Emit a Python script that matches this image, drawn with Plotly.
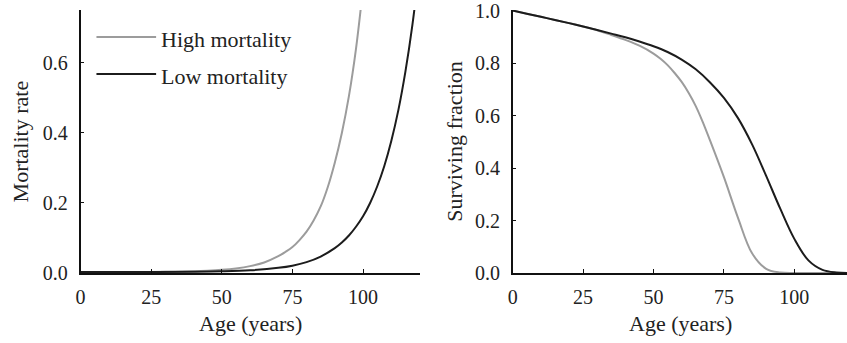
import plotly.graph_objects as go

# Mortality rate by age (left panel)
mort_age_high = [0, 10, 20, 30, 40, 45, 50, 55, 60, 65, 70, 72.5, 75, 77.5, 80,
                 82.5, 85, 87.5, 90, 92.5, 95, 97.5, 100]
mort_high = [0.0026, 0.0026, 0.0029, 0.0035, 0.005, 0.0066, 0.0091, 0.0131, 0.0196,
             0.0301, 0.048, 0.06, 0.074, 0.094, 0.118, 0.15, 0.19, 0.245, 0.315,
             0.40, 0.505, 0.64, 0.815]
mort_age_low = [0, 20, 40, 50, 60, 70, 75, 80, 85, 90, 92.5, 95, 97.5, 100, 102.5,
                105, 107.5, 110, 112.5, 115, 117.5, 120]
mort_low = [0.0025, 0.0027, 0.0035, 0.0047, 0.0077, 0.0148, 0.021, 0.031, 0.047,
            0.071, 0.087, 0.107, 0.132, 0.162, 0.20, 0.247, 0.305, 0.377, 0.465,
            0.575, 0.71, 0.877]

# Surviving fraction by age (right panel)
surv_age_high = [0, 5, 10, 15, 20, 25, 30, 35, 40, 45, 50, 52.5, 55, 57.5, 60, 62.5,
                 65, 67.5, 70, 75, 80, 85, 90, 95, 100, 110, 120]
surv_high = [1.0, 0.988, 0.976, 0.964, 0.952, 0.939, 0.925, 0.907, 0.888, 0.866,
             0.836, 0.816, 0.792, 0.762, 0.728, 0.686, 0.636, 0.575, 0.507, 0.365,
             0.21, 0.075, 0.016, 0.002, 0.0, 0.0, 0.0]
surv_age_low = [0, 5, 10, 15, 20, 25, 30, 35, 40, 45, 50, 55, 60, 65, 70, 75, 80, 85,
                90, 95, 100, 105, 110, 115, 120]
surv_low = [1.0, 0.988, 0.976, 0.964, 0.952, 0.939, 0.926, 0.912, 0.898, 0.882,
            0.864, 0.842, 0.813, 0.776, 0.727, 0.667, 0.59, 0.49, 0.37, 0.245,
            0.13, 0.048, 0.012, 0.002, 0.0]

x_ticks = [0, 25, 50, 75, 100]
mort_ticks = [0.0, 0.2, 0.4, 0.6]
surv_ticks = [0.0, 0.2, 0.4, 0.6, 0.8, 1.0]

series_names = ["High mortality", "Low mortality"]
GRAY = "#9c9c9c"
BLACK = "#1c1c1c"
FONT = "Liberation Serif"
TXT = "#222222"
TICK_SIZE = 20
LABEL_SIZE = 22

W, H = 847, 343
M_T, M_B = 9, 70
PLOT_H = H - M_T - M_B


def px(xp):
    return xp / W


def py(yp):
    return (H - M_B - yp) / PLOT_H


fig = go.Figure()

fig.add_trace(go.Scatter(x=mort_age_high, y=mort_high, mode="lines",
                         line=dict(color=GRAY, width=2, shape="spline"),
                         xaxis="x", yaxis="y", showlegend=False))
fig.add_trace(go.Scatter(x=mort_age_low, y=mort_low, mode="lines",
                         line=dict(color=BLACK, width=2, shape="spline"),
                         xaxis="x", yaxis="y", showlegend=False))
fig.add_trace(go.Scatter(x=surv_age_high, y=surv_high, mode="lines",
                         line=dict(color=GRAY, width=2, shape="spline"),
                         xaxis="x2", yaxis="y2", showlegend=False, cliponaxis=False))
fig.add_trace(go.Scatter(x=surv_age_low, y=surv_low, mode="lines",
                         line=dict(color=BLACK, width=2, shape="spline"),
                         xaxis="x2", yaxis="y2", showlegend=False, cliponaxis=False))

axis_common = dict(showgrid=False, zeroline=False, showline=True, linecolor="#111111",
                   linewidth=1.6, ticks="inside", ticklen=4, tickwidth=1,
                   tickcolor="#111111", ticklabeloverflow="allow",
                   tickfont=dict(family=FONT, size=TICK_SIZE, color=TXT),
                   fixedrange=True)

fig.update_layout(
    width=W, height=H,
    margin=dict(l=0, r=0, t=M_T, b=M_B),
    paper_bgcolor="white", plot_bgcolor="white",
    xaxis=dict(domain=[px(76), px(417)], range=[0, 120], tickvals=x_ticks,
               anchor="y", ticklabelstandoff=5, **axis_common),
    yaxis=dict(domain=[0, 1], range=[0, 0.751], tickvals=mort_ticks,
               tickformat=".1f", anchor="x", ticklabelstandoff=7, **axis_common),
    xaxis2=dict(domain=[px(510.7), 1], range=[0, 118.7], tickvals=x_ticks,
                anchor="y2", ticklabelstandoff=5, **axis_common),
    yaxis2=dict(domain=[0, 1], range=[0, 1.002], tickvals=surv_ticks,
                tickformat=".1f", anchor="x2", ticklabelstandoff=7, **axis_common),
)

# Hand-drawn legend in the left panel
legend_rows = [(series_names[0], GRAY, 36, 38.5), (series_names[1], BLACK, 73.3, 75.5)]
for name, color, yl, yt in legend_rows:
    fig.add_shape(type="line", xref="paper", yref="paper",
                  x0=px(92), x1=px(152), y0=py(yl), y1=py(yl),
                  line=dict(color=color, width=2))
    fig.add_annotation(text=name, xref="paper", yref="paper", x=px(155), y=py(yt),
                       xanchor="left", yanchor="middle", showarrow=False,
                       font=dict(family=FONT, size=LABEL_SIZE, color=TXT))

# Axis titles
titles = [
    ("Mortality rate", 16, 141, -90),
    ("Age (years)", 246.5, 324, 0),
    ("Surviving fraction", 452, 141, -90),
    ("Age (years)", 680, 324, 0),
]
for text, xp, yp, ang in titles:
    fig.add_annotation(text=text, xref="paper", yref="paper", x=px(xp), y=py(yp),
                       xanchor="center", yanchor="middle", showarrow=False,
                       textangle=ang,
                       font=dict(family=FONT, size=LABEL_SIZE, color=TXT))

fig.write_html("out.html")
